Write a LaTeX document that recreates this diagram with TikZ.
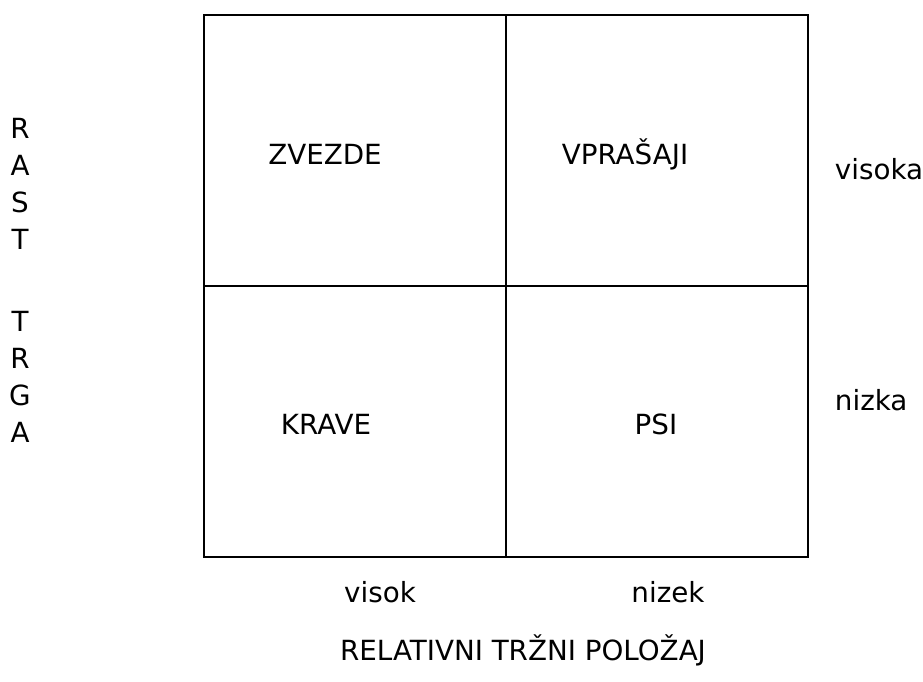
\documentclass[tikz,border=0pt]{standalone}
\usepackage{fontspec}
\setmainfont{DejaVu Sans}

\begin{document}
\begin{tikzpicture}[x = 0.02cm, y = -0.02cm, line width = 1.1pt,
  every node/.style = {inner sep = 0pt, font = \fontsize{15.8}{19}\selectfont}]
\useasboundingbox (0, 0) rectangle (923, 682);
% the four fields
\draw (204, 15) rectangle (808, 557);
\draw (506, 15) -- (506, 557)
(204, 286) -- (808, 286);
\node (zvezde) at (325, 154) {ZVEZDE};
\node (vprasaji) at (625, 154) {VPRAŠAJI};
\node (krave) at (326, 424) {KRAVE};
\node (psi) at (656, 424) {PSI};
% axes
\node[anchor = west] (visoka) at (834, 169) {visoka};
\node[anchor = west] (nizka) at (834, 400) {nizka};
\node (visok) at (380, 592) {visok};
\node (nizek) at (668, 592) {nizek};
\node (polozaj) at (523, 650) {RELATIVNI TRŽNI POLOŽAJ};
\foreach \l/\y in {R/128, A/165, S/202, T/239, T/321, R/358, G/395, A/432}
\node (rast\y) at (20, \y) {\l};
\end{tikzpicture}
\end{document}
